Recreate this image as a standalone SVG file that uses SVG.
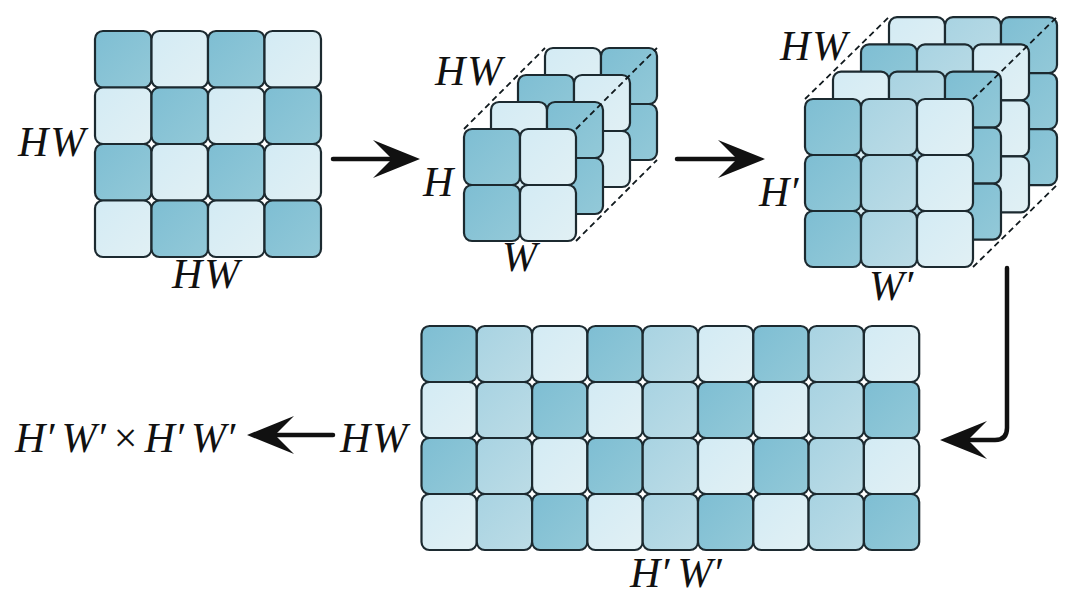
<svg xmlns="http://www.w3.org/2000/svg" xmlns:xlink="http://www.w3.org/1999/xlink" width="1068" height="596" viewBox="0 0 1068 596">
<style>
.c{stroke:#1c2a30;stroke-width:2.2}
.d{fill:url(#gd)}
.m{fill:url(#gm)}
.l{fill:url(#gl)}
.dash{fill:none;stroke:#111a1e;stroke-width:1.8;stroke-dasharray:6 4}
.ln{fill:none;stroke:#111;stroke-width:4.5;stroke-linecap:round;stroke-linejoin:round}
.ah{fill:#111}
text{font-family:"Liberation Serif","Times New Roman",serif;font-style:italic;font-size:42px;fill:#111}
.up{font-style:normal}
</style>
<defs>
<linearGradient id="gd" x1="0" y1="0" x2="1" y2="1"><stop offset="0" stop-color="#7ebed3"/><stop offset="1" stop-color="#93c9d8"/></linearGradient>
<linearGradient id="gm" x1="0" y1="0" x2="1" y2="1"><stop offset="0" stop-color="#a8d3e2"/><stop offset="1" stop-color="#bcdce6"/></linearGradient>
<linearGradient id="gl" x1="0" y1="0" x2="1" y2="1"><stop offset="0" stop-color="#d3ebf4"/><stop offset="1" stop-color="#e1f0f4"/></linearGradient>
<path id="ahead" d="M0,0 L-47,-19 L-28,0 L-47,19 Z"/>
<g id="q2a">
<rect class="c d" x="0" y="0" width="56" height="56" rx="8"/><rect class="c l" x="56" y="0" width="56" height="56" rx="8"/>
<rect class="c d" x="0" y="56" width="56" height="56" rx="8"/><rect class="c l" x="56" y="56" width="56" height="56" rx="8"/>
</g>
<g id="q2b">
<rect class="c l" x="0" y="0" width="56" height="56" rx="8"/><rect class="c d" x="56" y="0" width="56" height="56" rx="8"/>
<rect class="c l" x="0" y="56" width="56" height="56" rx="8"/><rect class="c d" x="56" y="56" width="56" height="56" rx="8"/>
</g>
<g id="q3a">
<rect class="c d" x="0" y="0" width="56" height="56" rx="8"/><rect class="c m" x="56" y="0" width="56" height="56" rx="8"/><rect class="c l" x="112" y="0" width="56" height="56" rx="8"/>
<rect class="c d" x="0" y="56" width="56" height="56" rx="8"/><rect class="c m" x="56" y="56" width="56" height="56" rx="8"/><rect class="c l" x="112" y="56" width="56" height="56" rx="8"/>
<rect class="c d" x="0" y="112" width="56" height="56" rx="8"/><rect class="c m" x="56" y="112" width="56" height="56" rx="8"/><rect class="c l" x="112" y="112" width="56" height="56" rx="8"/>
</g>
<g id="q3b">
<rect class="c l" x="0" y="0" width="56" height="56" rx="8"/><rect class="c m" x="56" y="0" width="56" height="56" rx="8"/><rect class="c d" x="112" y="0" width="56" height="56" rx="8"/>
<rect class="c l" x="0" y="56" width="56" height="56" rx="8"/><rect class="c m" x="56" y="56" width="56" height="56" rx="8"/><rect class="c d" x="112" y="56" width="56" height="56" rx="8"/>
<rect class="c l" x="0" y="112" width="56" height="56" rx="8"/><rect class="c m" x="56" y="112" width="56" height="56" rx="8"/><rect class="c d" x="112" y="112" width="56" height="56" rx="8"/>
</g>
<g id="rowA">
<rect class="c d" x="0" y="0" width="55.3" height="56" rx="8"/><rect class="c m" x="55.3" y="0" width="55.3" height="56" rx="8"/><rect class="c l" x="110.6" y="0" width="55.3" height="56" rx="8"/>
<rect class="c d" x="165.9" y="0" width="55.3" height="56" rx="8"/><rect class="c m" x="221.2" y="0" width="55.3" height="56" rx="8"/><rect class="c l" x="276.5" y="0" width="55.3" height="56" rx="8"/>
<rect class="c d" x="331.8" y="0" width="55.3" height="56" rx="8"/><rect class="c m" x="387.1" y="0" width="55.3" height="56" rx="8"/><rect class="c l" x="442.4" y="0" width="55.3" height="56" rx="8"/>
</g>
<g id="rowB">
<rect class="c l" x="0" y="0" width="55.3" height="56" rx="8"/><rect class="c m" x="55.3" y="0" width="55.3" height="56" rx="8"/><rect class="c d" x="110.6" y="0" width="55.3" height="56" rx="8"/>
<rect class="c l" x="165.9" y="0" width="55.3" height="56" rx="8"/><rect class="c m" x="221.2" y="0" width="55.3" height="56" rx="8"/><rect class="c d" x="276.5" y="0" width="55.3" height="56" rx="8"/>
<rect class="c l" x="331.8" y="0" width="55.3" height="56" rx="8"/><rect class="c m" x="387.1" y="0" width="55.3" height="56" rx="8"/><rect class="c d" x="442.4" y="0" width="55.3" height="56" rx="8"/>
</g>
</defs>
<rect width="1068" height="596" fill="#ffffff"/>

<g id="grid-hw">
<rect class="c d" x="95" y="31" width="56.5" height="56.5" rx="8"/><rect class="c l" x="151.5" y="31" width="56.5" height="56.5" rx="8"/><rect class="c d" x="208" y="31" width="56.5" height="56.5" rx="8"/><rect class="c l" x="264.5" y="31" width="56.5" height="56.5" rx="8"/>
<rect class="c l" x="95" y="87.5" width="56.5" height="56.5" rx="8"/><rect class="c d" x="151.5" y="87.5" width="56.5" height="56.5" rx="8"/><rect class="c l" x="208" y="87.5" width="56.5" height="56.5" rx="8"/><rect class="c d" x="264.5" y="87.5" width="56.5" height="56.5" rx="8"/>
<rect class="c d" x="95" y="144" width="56.5" height="56.5" rx="8"/><rect class="c l" x="151.5" y="144" width="56.5" height="56.5" rx="8"/><rect class="c d" x="208" y="144" width="56.5" height="56.5" rx="8"/><rect class="c l" x="264.5" y="144" width="56.5" height="56.5" rx="8"/>
<rect class="c l" x="95" y="200.5" width="56.5" height="56.5" rx="8"/><rect class="c d" x="151.5" y="200.5" width="56.5" height="56.5" rx="8"/><rect class="c l" x="208" y="200.5" width="56.5" height="56.5" rx="8"/><rect class="c d" x="264.5" y="200.5" width="56.5" height="56.5" rx="8"/>
<text x="18" y="156">H<tspan dx="2">W</tspan></text>
<text x="172" y="288">H<tspan dx="2">W</tspan></text>
</g>

<g id="cube-hw-h-w">
<use xlink:href="#q2b" href="#q2b" x="545" y="48"/>
<use xlink:href="#q2a" href="#q2a" x="518" y="75"/>
<use xlink:href="#q2b" href="#q2b" x="491" y="102"/>
<use xlink:href="#q2a" href="#q2a" x="464" y="129"/>
<path class="dash" d="M464,129 L545,48 M576,129 L657,48 M576,241 L657,160"/>
<text x="435" y="85">H<tspan dx="2">W</tspan></text>
<text x="423" y="196">H</text>
<text x="502" y="271">W</text>
</g>

<g id="cube-hw-h2-w2">
<use xlink:href="#q3b" href="#q3b" x="889" y="17.1"/>
<use xlink:href="#q3a" href="#q3a" x="861" y="44.4"/>
<use xlink:href="#q3b" href="#q3b" x="833" y="71.7"/>
<use xlink:href="#q3a" href="#q3a" x="805" y="99"/>
<path class="dash" d="M805,99 L889,17 M973,99 L1057,17 M973,267 L1057,185"/>
<text x="780" y="60">H<tspan dx="2">W</tspan></text>
<text x="759" y="206">H′</text>
<text x="869" y="300">W′</text>
</g>

<g id="grid-hw-h2w2">
<use xlink:href="#rowA" href="#rowA" x="421.5" y="326"/>
<use xlink:href="#rowB" href="#rowB" x="421.5" y="382"/>
<use xlink:href="#rowA" href="#rowA" x="421.5" y="438"/>
<use xlink:href="#rowB" href="#rowB" x="421.5" y="494"/>
<text x="340" y="452">H<tspan dx="2">W</tspan></text>
<text x="630" y="587">H′<tspan dx="8">W′</tspan></text>
</g>

<g id="result">
<text x="15" y="452">H′<tspan dx="7">W′</tspan><tspan class="up" dx="8">×</tspan><tspan dx="7">H′</tspan><tspan dx="7">W′</tspan></text>
</g>

<g id="connectors">
<path class="ln" d="M333,159 L398,159"/>
<use xlink:href="#ahead" href="#ahead" class="ah" transform="translate(420,159)"/>
<path class="ln" d="M677,159 L742,159"/>
<use xlink:href="#ahead" href="#ahead" class="ah" transform="translate(765,159)"/>
<path class="ln" d="M1007,268 L1007,428 Q1007,440 995,440 L966,440"/>
<use xlink:href="#ahead" href="#ahead" class="ah" transform="translate(940,440) rotate(180)"/>
<path class="ln" d="M333,435 L272,435"/>
<use xlink:href="#ahead" href="#ahead" class="ah" transform="translate(247,435) rotate(180)"/>
</g>
</svg>
